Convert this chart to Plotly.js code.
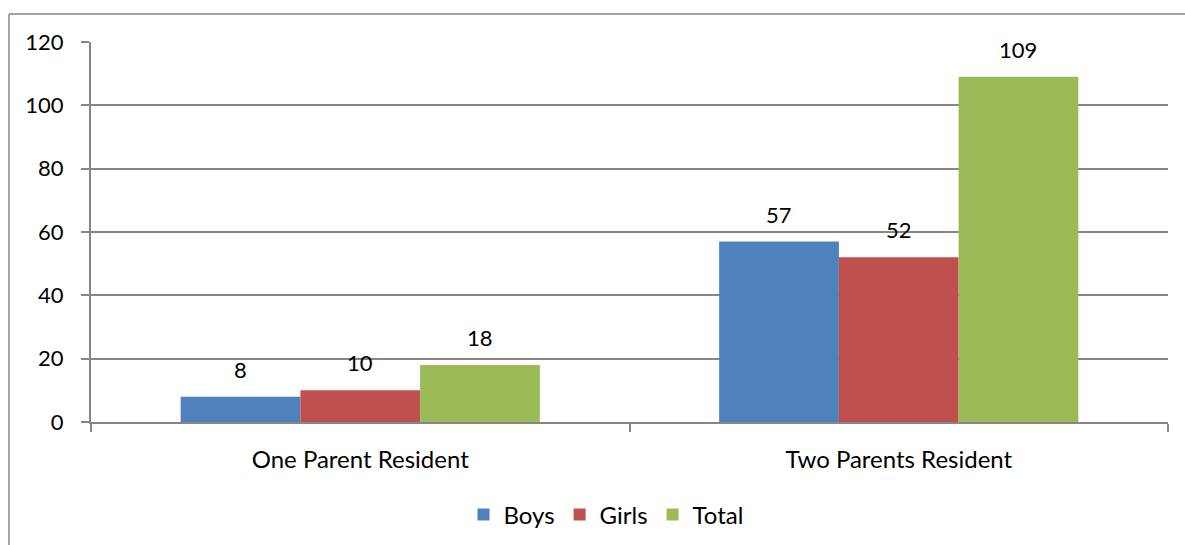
<!DOCTYPE html>
<html><head><meta charset="utf-8">
<script src="https://cdn.plot.ly/plotly-3.0.1.min.js"></script>
<style>html,body{margin:0;padding:0;background:#fff}#c{width:1185px;height:545px}</style>
</head><body><div id="c"></div>
<script>
const categories = ["One Parent Resident", "Two Parents Resident"];
const boys = [8, 57];
const girls = [10, 52];
const total = [18, 109];
const seriesNames = ["Boys", "Girls", "Total"];
const colors = ["#4F81BD", "#C0504D", "#9BBB59"];
const yTicks = [0, 20, 40, 60, 80, 100, 120];

const seriesVals = [boys, girls, total];
const FONT = "Lato, 'Open Sans', sans-serif";
const traces = seriesVals.map((v, i) => ({
  type: "bar", name: seriesNames[i], x: categories, y: v,
  marker: {color: colors[i], line: {width: 0}},
  hoverinfo: "skip"
}));

const bargap = 0.333;
const barW = (1 - bargap) / 3;
const annotations = [];
seriesVals.forEach((v, si) => {
  v.forEach((val, ci) => {
    annotations.push({
      x: ci + (si - 1) * barW, y: val, xref: "x", yref: "y",
      text: String(val), showarrow: false, yanchor: "bottom", yshift: 12,
      font: {family: FONT, size: 22, color: "#000"}
    });
  });
});

const gray = "#868686";
const L = 91, R = 1168, T = 42, B = 422, W = 1185, H = 545;
const px = x => (x - L) / (R - L);
const py = y => (B - y) / (B - T);
const shapes = [
  {type: "line", xref: "paper", yref: "paper", x0: px(9), x1: px(1200), y0: py(14), y1: py(14), line: {color: gray, width: 1.5}},
  {type: "line", xref: "paper", yref: "paper", x0: px(9), x1: px(9), y0: py(14), y1: py(560), line: {color: gray, width: 1.5}}
];

const layout = {
  width: W, height: H,
  margin: {l: L, r: W - R, t: T, b: H - B},
  paper_bgcolor: "#fff", plot_bgcolor: "#fff",
  barmode: "group", bargap: bargap, bargroupgap: 0,
  showlegend: true,
  legend: {orientation: "h", xref: "container", yref: "container", x: 606 / W, xanchor: "center",
    y: (H - 515) / H, yanchor: "middle",
    font: {family: FONT, size: 24, color: "#000"}, itemwidth: 30, traceorder: "normal"},
  xaxis: {type: "category", automargin: false, showgrid: false, showline: true, linecolor: gray, linewidth: 2,
    ticks: "outside", tickson: "boundaries", ticklen: 8, tickcolor: gray, tickwidth: 2,
    ticklabelstandoff: 15, tickfont: {family: FONT, size: 24, color: "#000"}, zeroline: false},
  yaxis: {range: [0, 120], automargin: false, tickvals: yTicks, showgrid: true, gridcolor: gray, gridwidth: 2,
    showline: true, linecolor: gray, linewidth: 2, ticks: "outside", ticklen: 8, tickcolor: gray, tickwidth: 2,
    ticklabelstandoff: 13, tickfont: {family: FONT, size: 22, color: "#000"}, zeroline: false},
  annotations: annotations, shapes: shapes
};
Plotly.newPlot("c", traces, layout, {displayModeBar: false, staticPlot: true});
</script></body></html>
